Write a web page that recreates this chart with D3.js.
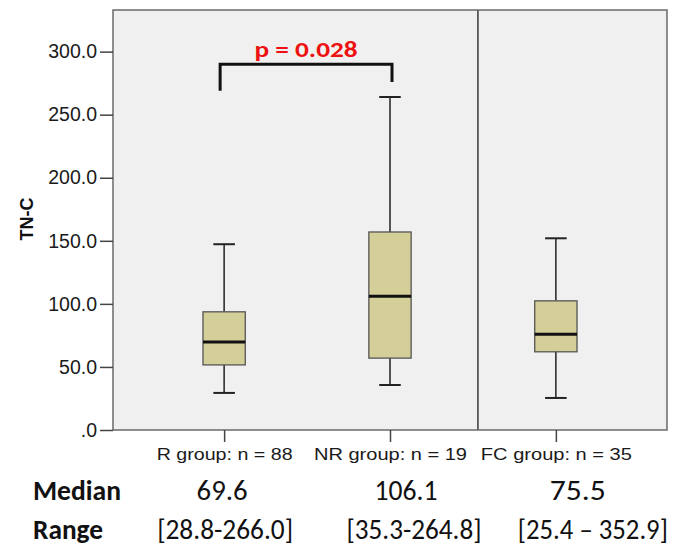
<!DOCTYPE html>
<html>
<head>
<meta charset="utf-8">
<script src="https://cdn.jsdelivr.net/npm/d3@7"></script>
<style>
  body { margin: 0; background: #ffffff; }
  svg { display: block; }
</style>
</head>
<body>
<script>
// ---- data ----
const categories = ["R group: n = 88", "NR group: n = 19", "FC group: n = 35"];
const whiskerLow  = [29.4, 35.7, 25.4];
const q1          = [51.6, 57.0, 62.0];
const median      = [69.8, 106.0, 76.0];
const q3          = [93.7, 157.0, 102.4];
const whiskerHigh = [147.3, 264.0, 152.0];
const yTicks      = [0, 50, 100, 150, 200, 250, 300];
const yTickLabels = [".0", "50.0", "100.0", "150.0", "200.0", "250.0", "300.0"];
const yLabel = "TN-C";
const medianLabels = ["69.6", "106.1", "75.5"];
const rangeLabels  = ["[28.8-266.0]", "[35.3-264.8]", "[25.4 \u2013 352.9]"];
const rowLabels = ["Median", "Range"];
const pLabel = "p = 0.028";
const bracketValues = [269, 290, 276]; // left foot, top, right foot

// ---- layout ----
const W = 675, H = 549;
const plot = { left: 113, right: 667, top: 10, bottom: 430 };

const svg = d3.select("body").append("svg").attr("width", W).attr("height", H);

const x = d3.scalePoint().domain(categories).range([plot.left, plot.right]).padding(0.67);
const y = d3.scaleLinear().domain([0, 333]).range([plot.bottom, plot.top]);
const step = x.step();
const boxW = step * 0.255;
const capW = step * 0.13;

// background
svg.append("rect")
  .attr("x", plot.left).attr("y", plot.top)
  .attr("width", plot.right - plot.left).attr("height", plot.bottom - plot.top)
  .attr("fill", "#f0f0f0");

// divider between panels
const divX = x(categories[1]) + step * 0.53;
svg.append("line")
  .attr("x1", divX).attr("x2", divX).attr("y1", plot.top).attr("y2", plot.bottom)
  .attr("stroke", "#3a3a3a").attr("stroke-width", 1.5);

// plot frame
svg.append("rect")
  .attr("x", plot.left).attr("y", plot.top)
  .attr("width", plot.right - plot.left).attr("height", plot.bottom - plot.top)
  .attr("fill", "none").attr("stroke", "#6a6a6a").attr("stroke-width", 1.5);

// y axis
const yAxis = d3.axisLeft(y).tickValues(yTicks)
  .tickFormat((d, i) => yTickLabels[i]).tickSize(13).tickPadding(3);
const gy = svg.append("g").attr("transform", `translate(${plot.left},0)`).call(yAxis);
gy.select(".domain").remove();
gy.selectAll(".tick line").attr("stroke", "#444").attr("stroke-width", 1.5);
gy.selectAll(".tick text")
  .attr("fill", "#1a1a1a")
  .style("font-family", "'Liberation Sans', Arial, sans-serif")
  .style("font-size", "19.5px");

// x axis
const xAxis = d3.axisBottom(x).tickSize(12).tickPadding(4);
const gx = svg.append("g").attr("transform", `translate(0,${plot.bottom})`).call(xAxis);
gx.select(".domain").remove();
gx.selectAll(".tick line").attr("stroke", "#444").attr("stroke-width", 1.5);
const catWidths = [136, 153, 151];
gx.selectAll(".tick text")
  .attr("fill", "#1a1a1a")
  .attr("dy", "0.9em")
  .style("font-family", "'Liberation Sans', Arial, sans-serif")
  .style("font-size", "16px")
  .attr("textLength", (d, i) => catWidths[i])
  .attr("lengthAdjust", "spacingAndGlyphs");

// y label
svg.append("text")
  .attr("transform", `translate(33,${(y(0) + y(333)) / 2 - 1}) rotate(-90)`)
  .attr("text-anchor", "middle")
  .style("font-family", "'Liberation Sans', Arial, sans-serif")
  .style("font-size", "18px").style("font-weight", "bold")
  .attr("fill", "#111")
  .text(yLabel);

// boxes
const boxes = svg.append("g").selectAll("g").data(categories).join("g");
boxes.append("line")
  .attr("x1", d => x(d)).attr("x2", d => x(d))
  .attr("y1", (d, i) => y(whiskerLow[i])).attr("y2", (d, i) => y(q1[i]))
  .attr("stroke", "#222").attr("stroke-width", 1.5);
boxes.append("line")
  .attr("x1", d => x(d)).attr("x2", d => x(d))
  .attr("y1", (d, i) => y(q3[i])).attr("y2", (d, i) => y(whiskerHigh[i]))
  .attr("stroke", "#222").attr("stroke-width", 1.5);
boxes.append("line")
  .attr("x1", d => x(d) - capW / 2).attr("x2", d => x(d) + capW / 2)
  .attr("y1", (d, i) => y(whiskerLow[i])).attr("y2", (d, i) => y(whiskerLow[i]))
  .attr("stroke", "#222").attr("stroke-width", 2);
boxes.append("line")
  .attr("x1", d => x(d) - capW / 2).attr("x2", d => x(d) + capW / 2)
  .attr("y1", (d, i) => y(whiskerHigh[i])).attr("y2", (d, i) => y(whiskerHigh[i]))
  .attr("stroke", "#222").attr("stroke-width", 2);
boxes.append("rect")
  .attr("x", d => x(d) - boxW / 2).attr("width", boxW)
  .attr("y", (d, i) => y(q3[i])).attr("height", (d, i) => y(q1[i]) - y(q3[i]))
  .attr("fill", "#d4ce98").attr("stroke", "#555").attr("stroke-width", 1.3);
boxes.append("line")
  .attr("x1", d => x(d) - boxW / 2).attr("x2", d => x(d) + boxW / 2)
  .attr("y1", (d, i) => y(median[i])).attr("y2", (d, i) => y(median[i]))
  .attr("stroke", "#111").attr("stroke-width", 3);

// significance bracket
const bx1 = x(categories[0]) - 4, bx2 = x(categories[1]) + 2;
svg.append("path")
  .attr("d", `M${bx1},${y(bracketValues[0])}V${y(bracketValues[1])}H${bx2}V${y(bracketValues[2])}`)
  .attr("fill", "none").attr("stroke", "#111").attr("stroke-width", 3);
svg.append("text")
  .attr("x", (bx1 + bx2) / 2).attr("y", y(bracketValues[1]) - 7)
  .attr("text-anchor", "middle")
  .style("font-family", "Carlito, Lato, 'Open Sans', sans-serif")
  .style("font-size", "22px").style("font-weight", "bold")
  .attr("fill", "#ee1111")
  .attr("textLength", 103).attr("lengthAdjust", "spacingAndGlyphs")
  .text(pLabel);

// summary rows
const rowFont = "Carlito, Lato, 'Open Sans', sans-serif";
const rowY = [500, 539];
svg.append("text").attr("x", 33).attr("y", rowY[0])
  .style("font-family", rowFont).style("font-size", "28px").style("font-weight", "bold")
  .attr("fill", "#111").attr("textLength", 88).attr("lengthAdjust", "spacingAndGlyphs")
  .text(rowLabels[0]);
svg.append("text").attr("x", 33).attr("y", rowY[1])
  .style("font-family", rowFont).style("font-size", "28px").style("font-weight", "bold")
  .attr("fill", "#111").attr("textLength", 70).attr("lengthAdjust", "spacingAndGlyphs")
  .text(rowLabels[1]);

const medOffsets = [-2, 16, 22];
const medWidths = [51, 63, 56];
svg.append("g").selectAll("text").data(medianLabels).join("text")
  .attr("x", (d, i) => x(categories[i]) + medOffsets[i]).attr("y", rowY[0])
  .attr("text-anchor", "middle")
  .style("font-family", rowFont).style("font-size", "28px")
  .attr("fill", "#111")
  .attr("textLength", (d, i) => medWidths[i]).attr("lengthAdjust", "spacingAndGlyphs")
  .text(d => d);

const rngOffsets = [1, 24, 37];
const rngWidths = [136, 135, 150];
svg.append("g").selectAll("text").data(rangeLabels).join("text")
  .attr("x", (d, i) => x(categories[i]) + rngOffsets[i]).attr("y", rowY[1])
  .attr("text-anchor", "middle")
  .style("font-family", rowFont).style("font-size", "28px")
  .attr("fill", "#111")
  .attr("textLength", (d, i) => rngWidths[i]).attr("lengthAdjust", "spacingAndGlyphs")
  .text(d => d);
</script>
</body>
</html>
